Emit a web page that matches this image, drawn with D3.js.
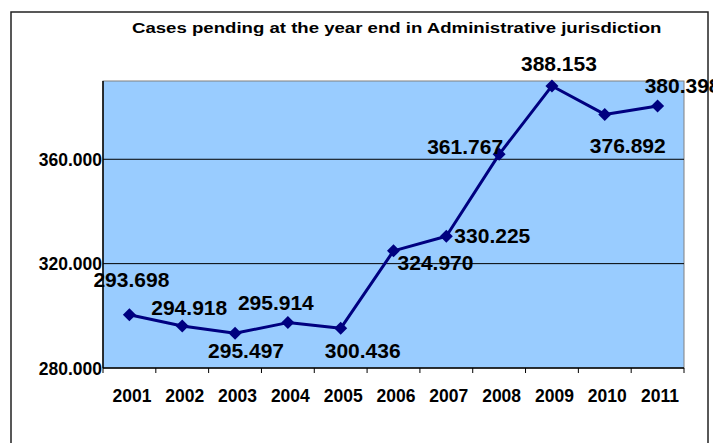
<!DOCTYPE html>
<html><head><meta charset="utf-8">
<script src="https://cdn.jsdelivr.net/npm/d3@7"></script>
<style>html,body{margin:0;padding:0;background:#fff;}svg{display:block;}</style>
</head><body>
<svg id="c" width="713" height="443"></svg>
<script>
const years = ["2001","2002","2003","2004","2005","2006","2007","2008","2009","2010","2011"];
const values = [300400, 296100, 293300, 297400, 295200, 324900, 330500, 361900, 388100, 377200, 380400];
const labels = ["293.698","294.918","295.497","295.914","300.436","324.970","330.225","361.767","388.153","376.892","380.398"];
const yTicks = [280000, 320000, 360000];
const yTickLabels = ["280.000","320.000","360.000"];
const title = "Cases pending at the year end in Administrative jurisdiction";

// label placement relative to each point (layout only)
const labelOffsets = [[2,-28],[7,-11],[11,25],[-12,-13],[22,30],[42,19],[46,7],[-34,0],[7,-15],[23,39],[25,-13]];

const svg = d3.select("#c");
const font = "'Liberation Sans', Arial, sans-serif";
const L = 103, R = 684, T = 81, B = 368;

svg.append("rect").attr("x",11).attr("y",12).attr("width",697).attr("height",445)
  .attr("fill","#fff").attr("stroke","#222").attr("stroke-width",1.5);

const tt = svg.append("text").attr("x",0).attr("y",0)
  .attr("font-family",font).attr("font-weight","bold").attr("font-size",15.5).text(title);
const tw = tt.node().getComputedTextLength();
tt.attr("transform",`translate(132,32.5) scale(${530/tw},1)`);

const x = d3.scaleBand().domain(years).range([L,R]);
const y = d3.scaleLinear().domain([280000,390000]).range([B,T]);

svg.append("rect").attr("x",L).attr("y",T).attr("width",R-L).attr("height",B-T)
  .attr("fill","#99CCFF").attr("stroke","#808080").attr("stroke-width",1);

svg.append("g").selectAll("line").data(yTicks.slice(1)).join("line")
  .attr("x1",L).attr("x2",R).attr("y1",d=>y(d)).attr("y2",d=>y(d))
  .attr("stroke","#000").attr("stroke-width",1);

const xa = svg.append("g").attr("transform",`translate(0,${B})`)
  .call(d3.axisBottom(x).tickSize(0).tickPadding(0).tickFormat(""));
xa.select(".domain").remove();
xa.selectAll(".tick").remove();
const bounds = years.map(d=>x(d)).concat([R]);
xa.selectAll("line.tk").data(bounds).join("line").attr("class","tk")
  .attr("x1",d=>d).attr("x2",d=>d).attr("y1",0).attr("y2",5).attr("stroke","#000").attr("stroke-width",1);
xa.selectAll("text.tl").data(years).join("text").attr("class","tl")
  .attr("x",d=>x(d)+x.bandwidth()/2+2.5).attr("y",34).attr("text-anchor","middle")
  .attr("font-family",font).attr("font-weight","bold").attr("font-size",17.5).attr("fill","#000").text(d=>d);

const ya = svg.append("g").attr("transform",`translate(${L},0)`)
  .call(d3.axisLeft(y).tickValues(yTicks).tickSize(0).tickPadding(1).tickFormat((d,i)=>yTickLabels[i]));
ya.select(".domain").remove();
ya.selectAll("text").attr("font-family",font).attr("font-weight","bold").attr("font-size",17.5).attr("fill","#000").attr("dy","0.36em");

svg.append("line").attr("x1",L).attr("x2",L).attr("y1",T).attr("y2",B).attr("stroke","#000").attr("stroke-width",1.5);
svg.append("line").attr("x1",L).attr("x2",R).attr("y1",B).attr("y2",B).attr("stroke","#000").attr("stroke-width",1.5);

const cx = (d,i)=>x(years[i])+x.bandwidth()/2;
const line = d3.line().x((d,i)=>cx(d,i)).y(d=>y(d));
svg.append("path").datum(values).attr("d",line).attr("fill","none")
  .attr("stroke","#000080").attr("stroke-width",3).attr("stroke-linejoin","round");

svg.append("g").selectAll("path").data(values).join("path")
  .attr("transform",(d,i)=>`translate(${cx(d,i)},${y(d)}) rotate(45)`)
  .attr("d",d3.symbol().type(d3.symbolSquare).size(85)).attr("fill","#000080");

svg.append("g").selectAll("text").data(values).join("text")
  .attr("x",(d,i)=>cx(d,i)+labelOffsets[i][0]).attr("y",(d,i)=>y(d)+labelOffsets[i][1])
  .attr("text-anchor","middle").attr("font-family",font).attr("font-weight","bold").attr("font-size",21)
  .attr("fill","#000").text((d,i)=>labels[i]);
</script>
</body></html>
